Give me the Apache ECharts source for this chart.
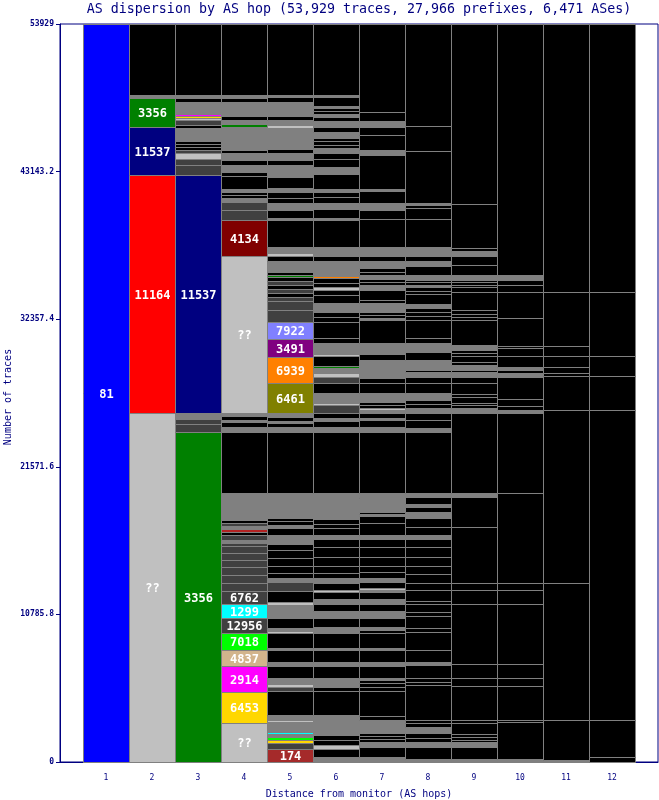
<!DOCTYPE html>
<html><head><meta charset="utf-8">
<script src="https://cdn.jsdelivr.net/npm/echarts/dist/echarts.min.js"></script>
<style>html,body{margin:0;padding:0;background:#fff}#c{width:659px;height:800px}</style>
</head><body><div id="c"></div>
<script>
const chartTitle = 'AS dispersion by AS hop (53,929 traces, 27,966 prefixes, 6,471 ASes)';
const yTitle = 'Number of traces';
const xTitle = 'Distance from monitor (AS hops)';
const hops = [1,2,3,4,5,6,7,8,9,10,11,12];
const yMax = 53929;
const yInterval = 10785.8;

// segment sizes (traces) from bottom to top, and their AS / kind
const col1Sizes = [53929];
const col1Kinds = ['81'];

const col2Sizes = [25500, 17390, 3510, 2120, 220];
const col2Kinds = ['??','11164','11537','3356','g'];

const col3Sizes = [24110,585,365,440,17390,730,440,440,220,220,220,220,950,220,365,146,146,146,880,290,220];
const col3Kinds = ['3356','d','d','g','11537','d','d','l','d','k','k','k','g','k','d','l','Y','M','g','k','g'];

const col4Sizes = [2850,2265,1900,1170,1240,1100,1020,950, 585,585,585,510,510,510,220, 220,365,220,220,220,220,220, 1970, 4460, 365,365,146,290,220, 11470, 2630, 730,585,290,220,220,220,950,290,510,365,510,220,730,950,220,290,290,1020,290,220];
const col4Kinds = ['??','6453','2914','4837','7018','12956','1299','6762', 'd','d','d','d','d','d','d', 'g','d','k','R','g','d','k', 'g', 'k', 'g','k','g','k','g', '??', '4134', 'd','d','g','k','k','g','k','k','g','k','g','k','g','g','G','g','k','g','k','g'];

const col5Sizes = [950,440,220,220,220,146,730,146,365, 1750, 290,220,440, 880,290,880,146,1100, 146,220,730, 950,220,804, 658,290,365,510,585,585,440, 658,510,220,290,220, 1830, 4460, 365,290,146,290,290, 2190,1900,1315,1240, 880,658,290,290,290,290,290,290, 146,220, 804,365,220,440, 1970, 146,585,510,365,440,290, 804,365,510,365,510,290, 585,950, 220,365,290, 1020,365,146];
const col5Kinds = ['174','d','Y','L','g','C','g','l','g', 'k', 'd','l','g', 'k','g','k','g','k', 'l','g','k', 'g','l','k', 'd','g','k','k','k','k','k', 'g','k','g','k','k', 'g', 'k', 'g','k','g','k','g', '6461','6939','3491','7922', 'd','d','d','k','d','k','d','k', 'G','k', 'g','k','l','g', 'k', 'g','k','g','k','k','g', 'k','g','g','k','g','k', 'g','g', 'l','g','k', 'g','k','g'];

const col6Sizes = [365,585,290,365,365,1460, 1750, 290,658,880,290,880,146,1100, 440,658,510,510,365,510, 146,510,365, 365,510,658,730,585,290,510,290,365, 1900, 4460, 365,440,220,365, 585,146,730,730,440,290,365,146, 730,146,804,365,1170,365,365, 658,585,365,220,290,365,146, 1096,365,658, 1970, 146,658,440,440,365,220, 1096,220,290,585,440, 365,220,290,220,440,365, 440,290,220,220,220,146, 658,146];
const col6Kinds = ['g','k','l','k','k','g', 'k', 'k','g','k','g','k','g','k', 'g','k','g','k','g','k', 'l','k','g', 'k','k','k','k','k','g','k','k','k', 'g', 'k', 'g','k','g','k', 'd','l','g','k','d','l','g','G', 'k','l','g','k','k','k','k', 'g','k','k','l','k','k','O', 'g','k','g', 'k', 'g','k','g','k','k','g', 'k','g','g','k','k', 'g','k','k','k','g','k', 'g','k','g','k','k','g', 'k','g'];

const col7Sizes = [365,730,365,220,220,220,950, 290,1830, 290,290,220,146,880,290,880,146,1100, 220,220,658,510,510,365,510,146, 146,440,290,440,440,658,730,585,290,877,510,146,146, 1023,73,290, 4460, 365,510,146,365, 220,146,220,220,658,730,365,1315,440,804,1680, 146,220,220,658,220,730, 365,220,220,290,220,290,510,365,658, 2046,658,510,877,146,2485,365,1096,585,440,658];
const col7Kinds = ['g','k','g','k','k','k','g', 'k','k', 'k','k','k','g','k','g','k','g','k', 'k','g','k','g','k','g','k','g', 'l','k','g','k','k','k','k','k','g','k','k','g','k', 'g','k','g', 'k', 'g','k','g','k', 'g','l','k','k','g','k','k','g','k','g','k', 'g','k','k','g','k','k', 'g','k','k','g','k','k','g','k','g', 'k','k','g','k','g','k','g','k','k','g','k'];

const col8Sizes = [220,877,365,290,365,440,290,220, 2557,220,290,950,220,877,1315,290,877,290,585,220,804, 510,658,585,658,730,585,290,585,658,440,365,220,510,290, 4460,290,585,510, 365,290,290,510,730,440,365,146,730,585,658,365,1315,290,290,290,290,730,220,290,146,220,146,365,658,365,365,658, 2046,804,220,146,3800,1827];
const col8Kinds = ['g','k','g','k','k','g','k','k', 'k','k','k','k','g','k','k','k','k','k','k','k','k', 'k','k','k','k','k','k','g','k','k','g','k','g','k','g', 'k','g','k','k', 'g','k','k','g','k','k','g','k','g','k','g','k','k','k','k','k','g','k','k','k','g','k','k','g','k','g','k','g', 'k','k','k','g','k','k'];

const col9Sizes = [220,877,365,146,220,220,804,220,2485,585,1023,4384,1023, 510,4092,2192,290,5845, 365,220,146,440,220,804,440,365,146,365,220,440,220,220,365,1827,220,220,290,1315,365,146,220,146,365,730,658,365,220,3215];
const col9Kinds = ['g','k','g','k','k','k','k','k','k','k','k','k','k', 'k','k','k','g','k', 'g','k','k','k','k','k','k','g','k','g','k','k','k','k','g','k','k','k','k','k','k','k','k','k','g','k','k','g','k','k'];

const col10Sizes = [220,2704,146,2485,585,1023,4384,1023, 510,6576,5845, 220,290,510,1608,290,220,220,804,585,146,2046,1900,510,365,365];
const col10Kinds = ['g','k','k','k','k','k','k','k', 'k','k','k', 'g','k','k','k','g','k','g','k','k','k','k','k','k','k','g'];

const col11Sizes = [146,2923,10011,12641,2485,220,440,804,731,3946];
const col11Kinds = ['g','k','k','k','k','k','k','k','k','k'];

const col12Sizes = [365,2704,22652,2485,1461,4677];
const col12Kinds = ['k','k','k','k','k','k'];

const asColors = {
  '81':'#0000ff','11164':'#ff0000','11537':'#000080','3356':'#008000','4134':'#800000','??':'#c0c0c0',
  '7922':'#8080ff','3491':'#800080','6939':'#ff8000','6461':'#808000','6762':'#404040','1299':'#00ffff',
  '12956':'#404040','7018':'#00ff00','4837':'#d2b48c','2914':'#ff00ff','6453':'#ffd700','174':'#a52a2a',
  'k':'#000000','g':'#808080','d':'#404040','l':'#c0c0c0','Y':'#ffd700','M':'#ff00ff','G':'#008000',
  'R':'#b22222','O':'#ff8000','L':'#00ff00','C':'#00ffff'
};

const allSizes = [col1Sizes,col2Sizes,col3Sizes,col4Sizes,col5Sizes,col6Sizes,col7Sizes,col8Sizes,col9Sizes,col10Sizes,col11Sizes,col12Sizes];
const allKinds = [col1Kinds,col2Kinds,col3Kinds,col4Kinds,col5Kinds,col6Kinds,col7Kinds,col8Kinds,col9Kinds,col10Kinds,col11Kinds,col12Kinds];

const segs = [];
allSizes.forEach((sizes, i) => {
  let base = 0;
  sizes.forEach((s, j) => {
    segs.push({hop: hops[i], y0: base, y1: base + s, kind: allKinds[i][j]});
    base += s;
  });
});

function crisp(v){ return Math.round(v) + 0.5; }

const chart = echarts.init(document.getElementById('c'), null, {renderer:'canvas'});
chart.setOption({
  animation: false,
  backgroundColor: '#ffffff',
  graphic: [{
    type: 'text', x: 359, y: 10, z: 10,
    style: {text: chartTitle, fill: '#000080', font: '13.3px "DejaVu Sans Mono"', align: 'center', verticalAlign: 'middle', textAlign:'center', textVerticalAlign:'middle'}
  }, {
    type: 'text', x: 8, y: 397, rotation: Math.PI / 2, z: 10,
    style: {text: yTitle, fill: '#000080', font: '10px "DejaVu Sans Mono"', align: 'center', verticalAlign: 'middle', textAlign:'center', textVerticalAlign:'middle'}
  }],
  grid: {left: 60, right: 1, top: 24, bottom: 38, containLabel: false, outerBoundsMode: 'none',
    show: true, borderColor: '#000080', borderWidth: 1, backgroundColor: '#ffffff'},
  xAxis: {
    type: 'value', min: 0, max: 13, interval: 1,
    splitLine: {show: false},
    axisLine: {lineStyle: {color: '#000080', width: 1}},
    axisTick: {show: false},
    axisLabel: {color: '#000080', fontFamily: 'DejaVu Sans Mono', fontSize: 8, margin: 12,
      formatter: v => (v >= 1 && v <= 12) ? String(v) : ''},
    name: xTitle, nameLocation: 'middle', nameGap: 27,
    nameTextStyle: {color: '#000080', fontFamily: 'DejaVu Sans Mono', fontSize: 10}
  },
  yAxis: {
    type: 'value', min: 0, max: yMax, interval: yInterval,
    splitLine: {show: false},
    axisLine: {show: true, lineStyle: {color: '#000080', width: 1}},
    axisTick: {show: true, length: 4, lineStyle: {color: '#000080'}},
    axisLabel: {color: '#000080', fontFamily: 'DejaVu Sans Mono', fontSize: 8, fontWeight: 'bold', margin: 6,
      formatter: v => String(Math.round(v * 10) / 10)}
  },
  series: [
    {
      type: 'custom', coordinateSystem: 'cartesian2d', z: 2,
      data: hops.map(h => [h, 0, yMax]),
      encode: {x: 0, y: [1, 2]},
      renderItem: (params, api) => {
        const h = api.value(0);
        const p0 = api.coord([h - 0.5, api.value(2)]);
        const p1 = api.coord([h + 0.5, api.value(1)]);
        const x0 = crisp(p0[0]), x1 = crisp(p1[0]), y0 = crisp(p0[1]), y1 = crisp(p1[1]);
        return {type: 'rect', shape: {x: x0, y: y0, width: x1 - x0, height: y1 - y0},
          style: {fill: '#000000', stroke: '#808080', lineWidth: 1}};
      }
    },
    {
      type: 'custom', coordinateSystem: 'cartesian2d', z: 3,
      data: segs.map(s => [s.hop, s.y0, s.y1]),
      encode: {x: 0, y: [1, 2]},
      renderItem: (params, api) => {
        const s = segs[params.dataIndex];
        const p0 = api.coord([s.hop - 0.5, s.y1]);
        const p1 = api.coord([s.hop + 0.5, s.y0]);
        const x0 = crisp(p0[0]), x1 = crisp(p1[0]), y0 = crisp(p0[1]), y1 = crisp(p1[1]);
        const children = [{type: 'rect', shape: {x: x0, y: y0, width: x1 - x0, height: y1 - y0},
          style: {fill: asColors[s.kind] || '#000000', stroke: '#808080', lineWidth: 1}}];
        const isLabel = s.kind.length > 1 || s.kind === '??';
        if (isLabel && (y1 - y0) >= 10) {
          children.push({type: 'text', x: (x0 + x1) / 2, y: (y0 + y1) / 2 + 1,
            style: {text: s.kind, fill: '#ffffff', font: 'bold 12px "DejaVu Sans Mono"',
              align: 'center', verticalAlign: 'middle', textAlign: 'center', textVerticalAlign: 'middle'}});
        }
        return {type: 'group', children};
      }
    }
  ]
});
</script>
</body></html>
